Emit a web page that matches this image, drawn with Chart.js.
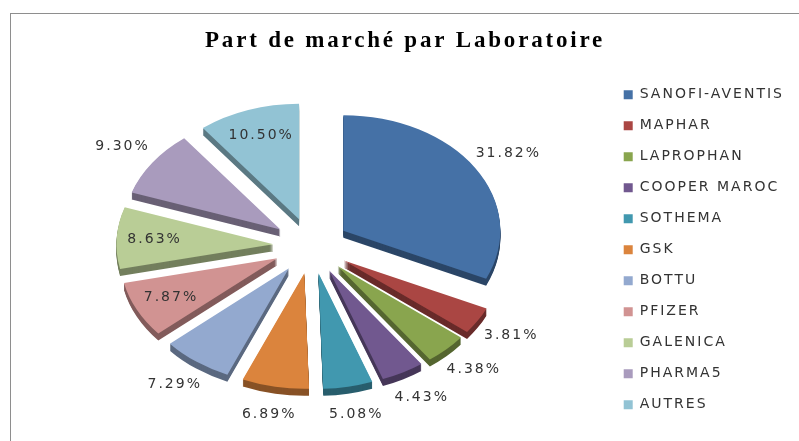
<!DOCTYPE html>
<html>
<head>
<meta charset="utf-8">
<script src="https://cdn.jsdelivr.net/npm/chart.js@4/dist/chart.umd.min.js"></script>
<style>
  html, body { margin: 0; padding: 0; background: #fff; }
  #wrap { width: 799px; height: 441px; }
</style>
</head>
<body>
<div id="wrap"><canvas id="chart" width="799" height="441"></canvas></div>
<script>
const labos = ['SANOFI-AVENTIS', 'MAPHAR', 'LAPROPHAN', 'COOPER MAROC', 'SOTHEMA', 'GSK', 'BOTTU', 'PFIZER', 'GALENICA', 'PHARMA5', 'AUTRES'];
const parts = [31.82, 3.81, 4.38, 4.43, 5.08, 6.89, 7.29, 7.87, 8.63, 9.30, 10.50];
const colors = ['#4571a6', '#aa4643', '#89a54e', '#71588f', '#4198af', '#db843d', '#93a9cf', '#d19392', '#b9cd96', '#a99bbd', '#92c3d4'];
const insideLabels = ['PFIZER', 'GALENICA', 'AUTRES'];

const TILT = 0.736;  // vertical squash of the pie
const SHIFT_Y = -4;  // pie sits a little above the plot centre
const DEPTH = 7;     // thickness of the 3D edge
const EXPLODE = 38;  // px each slice is pulled out
const LABEL_OUT = 233;
const LABEL_IN = 158;

function shade(hex, f) {
  const n = parseInt(hex.slice(1), 16);
  const r = Math.round(((n >> 16) & 255) * f);
  const g = Math.round(((n >> 8) & 255) * f);
  const b = Math.round((n & 255) * f);
  return `rgb(${r},${g},${b})`;
}

function midAngle(arc) {
  const p = arc.getProps(['startAngle', 'endAngle']);
  return (p.startAngle + p.endAngle) / 2;
}

// draws the slices exploded, squashed and with a darker edge underneath
const pie3d = {
  id: 'pie3d',
  afterLayout(chart) {
    const tb = chart.titleBlock;
    if (tb && !tb._spaced) {
      const orig = tb.draw.bind(tb);
      tb.draw = (area) => {
        const prev = chart.ctx.letterSpacing;
        chart.ctx.letterSpacing = '2.8px';
        orig(area);
        chart.ctx.letterSpacing = prev;
      };
      tb._spaced = true;
    }
  },
  beforeLayout(chart) { chart.ctx.letterSpacing = '2px'; },
  beforeDraw(chart) {
    const ctx = chart.ctx;
    ctx.letterSpacing = '2px';
    ctx.save();
    ctx.strokeStyle = '#8e8e8e';
    ctx.lineWidth = 1;
    ctx.strokeRect(10.5, 13.5, chart.width, chart.height);
    ctx.restore();
  },
  beforeDatasetsDraw(chart) {
    const ctx = chart.ctx;
    const a = chart.chartArea;
    const cy = (a.top + a.bottom) / 2;
    const arcs = chart.getDatasetMeta(0).data;
    ctx.save();
    ctx.translate(0, cy + SHIFT_Y);
    ctx.scale(1, TILT);
    ctx.translate(0, -cy);
    for (let d = DEPTH; d >= 0; d--) {
      arcs.forEach((arc, i) => {
        const m = midAngle(arc);
        const o = arc.options;
        if (d > 0) arc.options = Object.assign({}, o, { backgroundColor: shade(colors[i], 0.62) });
        ctx.save();
        ctx.translate(Math.cos(m) * EXPLODE, Math.sin(m) * EXPLODE + d / TILT);
        arc.draw(ctx);
        ctx.restore();
        arc.options = o;
      });
    }
    ctx.restore();
    return false;
  },
  afterDraw(chart) {
    const ctx = chart.ctx;
    const a = chart.chartArea;
    const cy = (a.top + a.bottom) / 2 + SHIFT_Y;
    const arcs = chart.getDatasetMeta(0).data;
    ctx.save();
    ctx.letterSpacing = '2px';
    ctx.font = '14px "DejaVu Sans"';
    ctx.fillStyle = '#333';
    ctx.textAlign = 'center';
    ctx.textBaseline = 'middle';
    arcs.forEach((arc, i) => {
      const m = midAngle(arc);
      const dist = insideLabels.includes(labos[i]) ? LABEL_IN : LABEL_OUT;
      const x = arc.x + Math.cos(m) * dist;
      const y = cy + Math.sin(m) * dist * TILT;
      ctx.fillText(parts[i].toFixed(2) + '%', x + 1, y);
    });
    ctx.restore();
  }
};

new Chart(document.getElementById('chart'), {
  type: 'pie',
  data: {
    labels: labos,
    datasets: [{
      data: parts,
      backgroundColor: colors,
      borderWidth: 0,
      radius: 157,
    }],
  },
  options: {
    responsive: false,
    animation: false,
    events: [],
    layout: { padding: { left: 16, right: 5, top: 0, bottom: 5 } },
    plugins: {
      title: {
        display: true,
        text: 'Part de marché par Laboratoire',
        color: '#000',
        font: { family: '"Liberation Serif"', size: 23, weight: 'bold' },
        padding: { top: 27, bottom: 9 },
      },
      legend: {
        position: 'right',
        fullSize: false,
        labels: {
          color: '#333',
          font: { family: '"DejaVu Sans"', size: 14 },
          boxWidth: 9,
          boxHeight: 9,
          padding: 17,
        },
      },
      tooltip: { enabled: false },
    },
  },
  plugins: [pie3d],
});
</script>
</body>
</html>
